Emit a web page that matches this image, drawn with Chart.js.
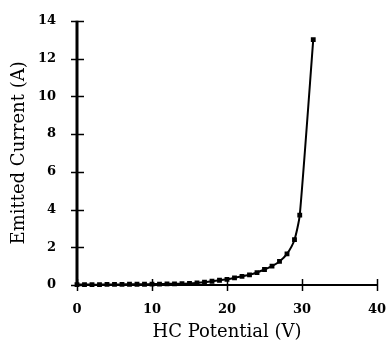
<!DOCTYPE html>
<html>
<head>
<meta charset="utf-8">
<script src="https://cdn.jsdelivr.net/npm/chart.js@4/dist/chart.umd.min.js"></script>
<style>
  html, body { margin: 0; padding: 0; background: #fff; }
  canvas { display: block; }
</style>
</head>
<body>
<canvas id="ivChart" width="387" height="348"></canvas>
<script>
// HC potential (V) vs emitted current (A)
const potential = [0, 1, 2, 3, 4, 5, 6, 7, 8, 9, 10, 11, 12, 13, 14, 15, 16, 17, 18, 19, 20,
                   21, 22, 23, 24, 25, 26, 27, 28, 29, 29.7, 31.5];
const current   = [0.02, 0.02, 0.02, 0.02, 0.03, 0.03, 0.03, 0.04, 0.04, 0.04, 0.05, 0.05, 0.06, 0.06, 0.07, 0.08,
                   0.11, 0.15, 0.2, 0.25, 0.3, 0.38, 0.46, 0.54, 0.66, 0.82, 1.0, 1.25, 1.65, 2.4, 3.7, 13];

const xTicks = [0, 10, 20, 30, 40];
const yTicks = [0, 2, 4, 6, 8, 10, 12, 14];

const serif = "'DejaVu Serif', 'Liberation Serif', serif";

// draws axis lines and ticks crossing both sides, like the original
const crossTicks = {
  id: 'crossTicks',
  afterDraw(chart) {
    const { ctx, scales: { x, y } } = chart;
    const y0 = y.getPixelForValue(0);
    const x0 = x.getPixelForValue(0);
    ctx.save();
    ctx.strokeStyle = '#000';
    // y axis
    ctx.lineWidth = 3;
    ctx.beginPath();
    ctx.moveTo(x0, y0);
    ctx.lineTo(x0, y.getPixelForValue(14));
    ctx.stroke();
    // x axis
    ctx.lineWidth = 2;
    ctx.beginPath();
    ctx.moveTo(x0, y0);
    ctx.lineTo(x.getPixelForValue(40), y0);
    ctx.stroke();
    ctx.lineWidth = 1.5;
    yTicks.forEach(v => {
      const py = Math.round(y.getPixelForValue(v)) + 0.5;
      ctx.beginPath();
      ctx.moveTo(x0 - 6, py);
      ctx.lineTo(x0 + 7, py);
      ctx.stroke();
    });
    xTicks.forEach(v => {
      const px = Math.round(x.getPixelForValue(v)) + 0.5;
      ctx.beginPath();
      ctx.moveTo(px, y0 - 6);
      ctx.lineTo(px, y0 + 6);
      ctx.stroke();
    });
    ctx.restore();
  }
};

new Chart(document.getElementById('ivChart'), {
  type: 'line',
  data: {
    datasets: [{
      data: potential.map((v, i) => ({ x: v, y: current[i] })),
      borderColor: '#000',
      backgroundColor: '#000',
      borderWidth: 2,
      pointStyle: 'rect',
      pointRadius: 2,
      tension: 0.2,
      clip: false
    }]
  },
  options: {
    responsive: false,
    animation: false,
    layout: { padding: { top: 12, right: 2, left: 0, bottom: 0 } },
    plugins: { legend: { display: false }, tooltip: { enabled: false } },
    scales: {
      x: {
        type: 'linear',
        min: 0, max: 40,
        afterFit(s) { s.height = 63; s.paddingRight = 10; },
        afterBuildTicks(s) { s.ticks = xTicks.map(v => ({ value: v })); },
        grid: { display: false },
        border: { display: false },
        ticks: {
          padding: 9,
          color: '#000',
          maxRotation: 0,
          font: { family: serif, size: 13, weight: 'bold' }
        },
        title: {
          display: true,
          text: 'HC Potential (V)',
          color: '#000',
          padding: { top: 0, bottom: 5 },
          font: { family: serif, size: 18 }
        }
      },
      y: {
        type: 'linear',
        min: 0, max: 14,
        afterFit(s) { s.width = 77; },
        afterBuildTicks(s) { s.ticks = yTicks.map(v => ({ value: v })); },
        grid: { display: false },
        border: { display: false },
        ticks: {
          padding: 13,
          color: '#000',
          font: { family: serif, size: 13, weight: 'bold' }
        },
        title: {
          display: true,
          text: 'Emitted Current (A)',
          color: '#000',
          padding: { top: 9, bottom: 0 },
          font: { family: serif, size: 18 }
        }
      }
    }
  },
  plugins: [crossTicks]
});
</script>
</body>
</html>
